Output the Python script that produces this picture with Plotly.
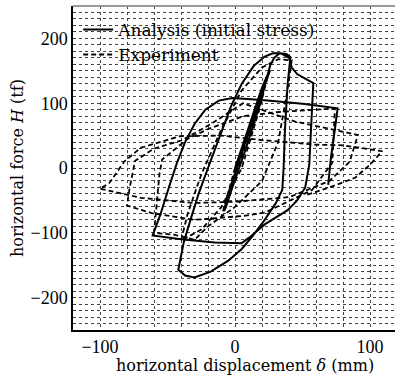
import plotly.graph_objects as go

# ---- data ----
analysis_x = [0, 10, 20, 25, 26, 22, 10, 0, -6, -8, -7, -2, 8, 18, 24,
              26, 29, 33, 38, 41, 39, 37, 36, 35, 30, 22, 13, 5, -5, -18, -30, -37, -42,
              -38, -33, -27, -20, -12, -3, 5, 14, 22, 28, 34, 40, 42, 46, 52, 58,
              57, 56, 55, 52, 46, 39, 30, 22, 12, 5, -15, -40, -61,
              -55, -49, -43, -37, -30, -22, -12, -2, 20, 50, 76,
              74, 71, 69]
analysis_y = [0, 62, 124, 148, 151, 128, 55, -5, -45, -66, -62, -30, 30, 95, 140,
              158, 170, 177, 176, 171, 130, 60, 0, -34, -55, -80, -105, -125, -143, -160, -169, -166, -157,
              -115, -80, -40, 0, 45, 95, 130, 158, 172, 177, 177, 170, 155, 145, 138, 131,
              90, 40, 5, -30, -50, -65, -76, -87, -105, -116, -115, -110, -104,
              -70, -30, 8, 40, 68, 90, 104, 108, 105, 99, 92,
              60, 15, -26]

experiment_x = [0, -6, -10, -3, 8, 18, 25, 18, 5, -10, -25, -40,
                -35, -25, -10, 5, 20, 32, 42, 38, 32, 20, 0, -20, -30, -45, -60,
                -58, -56, -54, -35, -20, 6, 30, 55, 74,
                72, 57, 22, 6, -30, -61, -80,
                -78, -74, -60, -39, -17, 6, 44, 91,
                85, 70, 40, 0, -30, -70, -98, -100,
                -93, -82, -70, -41, -10, 20, 60, 80, 109,
                100, 89, 70, 52]
experiment_y = [0, -45, -75, -35, 40, 105, 148, 90, 0, -60, -95, -112,
                -70, -10, 60, 120, 155, 168, 166, 110, 40, -20, -60, -90, -111, -103, -100,
                -50, -10, 13, 45, 60, 80, 86, 90, 92,
                8, -34, -69, -74, -80, -70, -58,
                -30, 11, 30, 43, 69, 100, 72, 51,
                10, -20, -45, -52, -54, -46, -34, -32,
                -23, 10, 31, 49, 50, 43, 36, 35, 26,
                5, -15, -30, -42]

x_tickvals = [-120, -100, -80, -60, -40, -20, 0, 20, 40, 60, 80, 100, 120]
x_ticktext = ["", "\u2212100", "", "", "", "", "0", "", "", "", "", "100", ""]
y_tickvals = list(range(-250, 251, 10))
y_labels = {-200: "\u2212200", -100: "\u2212100", 0: "0", 100: "100", 200: "200"}
y_ticktext = [y_labels.get(v, "") for v in y_tickvals]

TICKFONT = dict(family="Liberation Serif", size=18, color="black")
TEXTFONT = dict(family="DejaVu Serif", size=16, color="black")
LEGENDFONT = dict(family="DejaVu Serif", size=17, color="black")

fig = go.Figure()
fig.add_trace(go.Scatter(x=analysis_x, y=analysis_y, mode="lines",
                         name="Analysis (initial stress)",
                         line=dict(color="black", width=2)))
fig.add_trace(go.Scatter(x=experiment_x, y=experiment_y, mode="lines",
                         name="Experiment",
                         line=dict(color="black", width=1.8, dash="5px,3px")))

fig.update_layout(
    width=395, height=378,
    margin=dict(l=73, r=0, t=6, b=48, autoexpand=False),
    paper_bgcolor="white", plot_bgcolor="white",
    font=TEXTFONT,
    showlegend=True,
    legend=dict(x=0.016, y=0.982, xanchor="left", yanchor="top",
                bgcolor="rgba(0,0,0,0)", font=LEGENDFONT,
                tracegroupgap=0, itemwidth=30),
    xaxis=dict(range=[-120, 118.5], tickmode="array", tickvals=x_tickvals, ticktext=x_ticktext,
               showgrid=True, gridcolor="#444", griddash="dot", gridwidth=1,
               zeroline=False, showline=True, linecolor="black", linewidth=1.5,
               ticks="", tickfont=TICKFONT, automargin=False),
    yaxis=dict(range=[-250, 250], tickmode="array", tickvals=y_tickvals, ticktext=y_ticktext,
               showgrid=True, gridcolor="#444", griddash="dot", gridwidth=1,
               zeroline=False, showline=True, linecolor="black", linewidth=1.5,
               ticks="", tickfont=TICKFONT, automargin=False),
)
fig.add_shape(type="line", xref="paper", yref="paper", x0=0, x1=1, y0=1, y1=1,
              line=dict(color="#999", width=2))
fig.add_annotation(text="horizontal displacement <i>\u03b4</i> (mm)",
                   xref="paper", yref="paper", x=0.534, y=-0.111,
                   xanchor="center", yanchor="middle", showarrow=False, font=TEXTFONT)
fig.add_annotation(text="horizontal force <i>H</i> (tf)",
                   xref="paper", yref="paper", x=-0.174, y=0.5, textangle=-90,
                   xanchor="center", yanchor="middle", showarrow=False, font=TEXTFONT)

fig.write_html("out.html",
               config={"displayModeBar": False},
               post_script="document.body.style.margin='0px';document.body.style.overflow='hidden';")
